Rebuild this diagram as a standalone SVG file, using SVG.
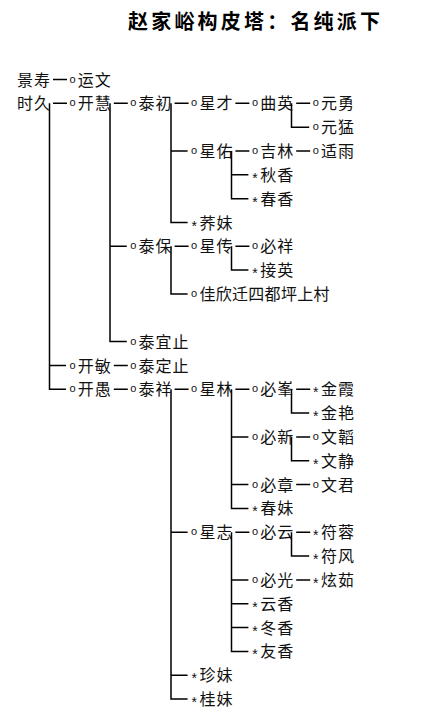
<svg xmlns="http://www.w3.org/2000/svg" width="427" height="725" viewBox="0 0 427 725">
<style>
.t{font-family:"Noto Sans CJK SC","Noto Sans CJK TC",sans-serif;font-size:20px;font-weight:700;letter-spacing:3.2px;fill:#000}
.nm{font-family:"Noto Sans CJK SC",sans-serif;font-size:16px;letter-spacing:1px;fill:#111}
.o{font-family:"Liberation Sans",Arial,sans-serif;font-size:11px;fill:#111}
.s{font-family:"Liberation Sans",Arial,sans-serif;font-size:14px;fill:#111}
.c{fill:none;stroke:#000;stroke-width:1.5}
</style>
<rect width="427" height="725" fill="#fff"/>
<text class="t" x="128" y="28.5">赵家峪构皮塔：名纯派下</text>
<g id="connectors" class="c">
<path d="M53 79.5H67"/>
<path d="M53 103.3H67M113.8 103.3H127.8M174.6 103.3H188.6M235.4 103.3H249.4M296.2 103.3H310.2"/>
<path d="M235.4 151H249.4M296.2 151H310.2"/>
<path d="M174.6 246.3H188.6M235.4 246.3H249.4"/>
<path d="M113.8 365.5H127.8"/>
<path d="M113.8 389.3H127.8M174.6 389.3H188.6M235.4 389.3H249.4M296.2 389.3H310.2"/>
<path d="M296.2 437H310.2M296.2 484.6H310.2"/>
<path d="M235.4 532.3H249.4M296.2 532.3H310.2M296.2 579.9H310.2"/>
<path d="M49.5 103.3V389.3H66M49.5 365.5H66"/>
<path d="M110 103.3V341.6H126.8M110 246.3H126.8"/>
<path d="M171 103.3V222.5H187.6M171 151H187.6"/>
<path d="M231.5 151V198.7H248.4M231.5 174.8H248.4"/>
<path d="M291.5 103.3V127.2H309.2"/>
<path d="M171 246.3V294H187.6"/>
<path d="M231.5 246.3V270.1H248.4"/>
<path d="M171 389.3V699.1H187.6M171 532.3H187.6M171 675.3H187.6"/>
<path d="M231.5 389.3V508.4H248.4M231.5 437H248.4M231.5 484.6H248.4"/>
<path d="M291.5 389.3V413.1H309.2"/>
<path d="M291.5 437V460.8H309.2"/>
<path d="M231.5 532.3V651.4H248.4M231.5 579.9H248.4M231.5 603.8H248.4M231.5 627.6H248.4"/>
<path d="M291.5 532.3V556.1H309.2"/>
</g>
<g id="n-jingshou"><text class="nm" x="17" y="85.5">景寿</text></g>
<g id="n-yunwen"><text class="o" x="69.5" y="82.5">o</text><text class="nm" x="77.8" y="85.5">运文</text></g>
<g id="n-shijiu"><text class="nm" x="17" y="109.3">时久</text></g>
<g id="n-kaihui"><text class="o" x="69.5" y="106.3">o</text><text class="nm" x="77.8" y="109.3">开慧</text></g>
<g id="n-taichu"><text class="o" x="130.3" y="106.3">o</text><text class="nm" x="138.6" y="109.3">泰初</text></g>
<g id="n-xingcai"><text class="o" x="191.1" y="106.3">o</text><text class="nm" x="199.4" y="109.3">星才</text></g>
<g id="n-quying"><text class="o" x="251.9" y="106.3">o</text><text class="nm" x="260.2" y="109.3">曲英</text></g>
<g id="n-yuanyong"><text class="o" x="312.7" y="106.3">o</text><text class="nm" x="321" y="109.3">元勇</text></g>
<g id="n-yuanmeng"><text class="o" x="312.7" y="130.2">o</text><text class="nm" x="321" y="133.2">元猛</text></g>
<g id="n-xingyou"><text class="o" x="191.1" y="154">o</text><text class="nm" x="199.4" y="157">星佑</text></g>
<g id="n-jilin"><text class="o" x="251.9" y="154">o</text><text class="nm" x="260.2" y="157">吉林</text></g>
<g id="n-shiyu"><text class="o" x="312.7" y="154">o</text><text class="nm" x="321" y="157">适雨</text></g>
<g id="n-qiuxiang"><text class="s" x="252.3" y="182.8">*</text><text class="nm" x="260.2" y="180.8">秋香</text></g>
<g id="n-chunxiang"><text class="s" x="252.3" y="206.7">*</text><text class="nm" x="260.2" y="204.7">春香</text></g>
<g id="n-jimei"><text class="s" x="191.5" y="230.5">*</text><text class="nm" x="199.4" y="228.5">荞妹</text></g>
<g id="n-taibao"><text class="o" x="130.3" y="249.3">o</text><text class="nm" x="138.6" y="252.3">泰保</text></g>
<g id="n-xingchuan"><text class="o" x="191.1" y="249.3">o</text><text class="nm" x="199.4" y="252.3">星传</text></g>
<g id="n-bixiang"><text class="o" x="251.9" y="249.3">o</text><text class="nm" x="260.2" y="252.3">必祥</text></g>
<g id="n-jieying"><text class="s" x="252.3" y="278.1">*</text><text class="nm" x="260.2" y="276.1">接英</text></g>
<g id="n-jiaxin"><text class="o" x="191.1" y="297">o</text><text class="nm" x="199.4" y="300" style="letter-spacing:0.3px">佳欣迁四都坪上村</text></g>
<g id="n-taiyi"><text class="o" x="130.3" y="344.6">o</text><text class="nm" x="138.6" y="347.6">泰宜止</text></g>
<g id="n-kaimin"><text class="o" x="69.5" y="368.5">o</text><text class="nm" x="77.8" y="371.5">开敏</text></g>
<g id="n-taiding"><text class="o" x="130.3" y="368.5">o</text><text class="nm" x="138.6" y="371.5">泰定止</text></g>
<g id="n-kaiyu"><text class="o" x="69.5" y="392.3">o</text><text class="nm" x="77.8" y="395.3">开愚</text></g>
<g id="n-taixiang"><text class="o" x="130.3" y="392.3">o</text><text class="nm" x="138.6" y="395.3">泰祥</text></g>
<g id="n-xinglin"><text class="o" x="191.1" y="392.3">o</text><text class="nm" x="199.4" y="395.3">星林</text></g>
<g id="n-bifeng"><text class="o" x="251.9" y="392.3">o</text><text class="nm" x="260.2" y="395.3">必峯</text></g>
<g id="n-jinxia"><text class="s" x="313.1" y="397.3">*</text><text class="nm" x="321" y="395.3">金霞</text></g>
<g id="n-jinyan"><text class="s" x="313.1" y="421.1">*</text><text class="nm" x="321" y="419.1">金艳</text></g>
<g id="n-bixin"><text class="o" x="251.9" y="440">o</text><text class="nm" x="260.2" y="443">必新</text></g>
<g id="n-wentao"><text class="o" x="312.7" y="440">o</text><text class="nm" x="321" y="443">文韜</text></g>
<g id="n-wenjing"><text class="s" x="313.1" y="468.8">*</text><text class="nm" x="321" y="466.8">文静</text></g>
<g id="n-bizhang"><text class="o" x="251.9" y="487.6">o</text><text class="nm" x="260.2" y="490.6">必章</text></g>
<g id="n-wenjun"><text class="o" x="312.7" y="487.6">o</text><text class="nm" x="321" y="490.6">文君</text></g>
<g id="n-chunmei"><text class="s" x="252.3" y="516.4">*</text><text class="nm" x="260.2" y="514.4">春妹</text></g>
<g id="n-xingzhi"><text class="o" x="191.1" y="535.3">o</text><text class="nm" x="199.4" y="538.3">星志</text></g>
<g id="n-biyun"><text class="o" x="251.9" y="535.3">o</text><text class="nm" x="260.2" y="538.3">必云</text></g>
<g id="n-furong"><text class="s" x="313.1" y="540.3">*</text><text class="nm" x="321" y="538.3">符蓉</text></g>
<g id="n-fufeng"><text class="s" x="313.1" y="564.1">*</text><text class="nm" x="321" y="562.1">符风</text></g>
<g id="n-biguang"><text class="o" x="251.9" y="582.9">o</text><text class="nm" x="260.2" y="585.9">必光</text></g>
<g id="n-xuanru"><text class="s" x="313.1" y="587.9">*</text><text class="nm" x="321" y="585.9">炫茹</text></g>
<g id="n-yunxiang"><text class="s" x="252.3" y="611.8">*</text><text class="nm" x="260.2" y="609.8">云香</text></g>
<g id="n-dongxiang"><text class="s" x="252.3" y="635.6">*</text><text class="nm" x="260.2" y="633.6">冬香</text></g>
<g id="n-youxiang"><text class="s" x="252.3" y="659.4">*</text><text class="nm" x="260.2" y="657.4">友香</text></g>
<g id="n-zhenmei"><text class="s" x="191.5" y="683.3">*</text><text class="nm" x="199.4" y="681.3">珍妹</text></g>
<g id="n-guimei"><text class="s" x="191.5" y="707.1">*</text><text class="nm" x="199.4" y="705.1">桂妹</text></g>
</svg>
